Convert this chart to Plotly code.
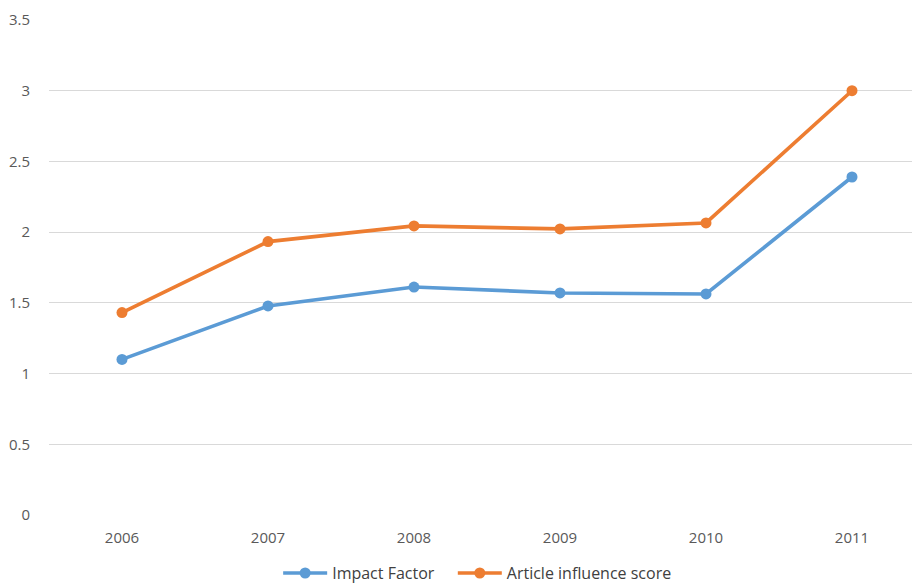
import plotly.graph_objects as go

years = ["2006", "2007", "2008", "2009", "2010", "2011"]
impact_factor = [1.10, 1.478, 1.612, 1.57, 1.563, 2.39]
article_influence = [1.431, 1.933, 2.044, 2.023, 2.065, 3.0]
y_ticks = [0, 0.5, 1, 1.5, 2, 2.5, 3, 3.5]
y_tick_labels = ["0", "0.5", "1", "1.5", "2", "2.5", "3", "3.5"]

fig = go.Figure()
fig.add_trace(go.Scatter(
    x=list(range(len(years))), y=impact_factor, name="Impact Factor",
    mode="lines+markers", legend="legend",
    line=dict(color="#5B9BD5", width=3.6),
    marker=dict(size=11, color="#5B9BD5"),
))
fig.add_trace(go.Scatter(
    x=list(range(len(years))), y=article_influence, name="Article influence score",
    mode="lines+markers", legend="legend2",
    line=dict(color="#ED7D31", width=3.6),
    marker=dict(size=11, color="#ED7D31"),
))

leg_common = dict(orientation="h", xanchor="left", xref="container", yref="container",
                  yanchor="middle", y=0.022, bgcolor="rgba(0,0,0,0)",
                  font=dict(size=16, color="#404040"), itemwidth=44)

fig.update_layout(
    width=912, height=586,
    margin=dict(l=49, r=0, t=20, b=71, autoexpand=False),
    plot_bgcolor="white", paper_bgcolor="white",
    font=dict(family="Open Sans, sans-serif", size=15, color="#595959"),
    showlegend=True,
    legend=dict(x=0.305, **leg_common),
    legend2=dict(x=0.4965, **leg_common),
    xaxis=dict(
        tickmode="array", tickvals=list(range(len(years))), ticktext=years,
        range=[-0.5, 5.411], showgrid=False, zeroline=False, showline=False,
        ticks="", ticklabelstandoff=12, automargin=False,
    ),
    yaxis=dict(
        tickmode="array", tickvals=y_ticks, ticktext=y_tick_labels,
        range=[0, 3.5], showgrid=True, gridcolor="#D9D9D9", gridwidth=1.3,
        zeroline=False, showline=False, ticks="", ticklabelstandoff=18,
        automargin=False,
    ),
)
fig.write_html("out.html", config={"displayModeBar": False},
               post_script="document.body.style.margin='0';document.body.style.overflow='hidden';")
